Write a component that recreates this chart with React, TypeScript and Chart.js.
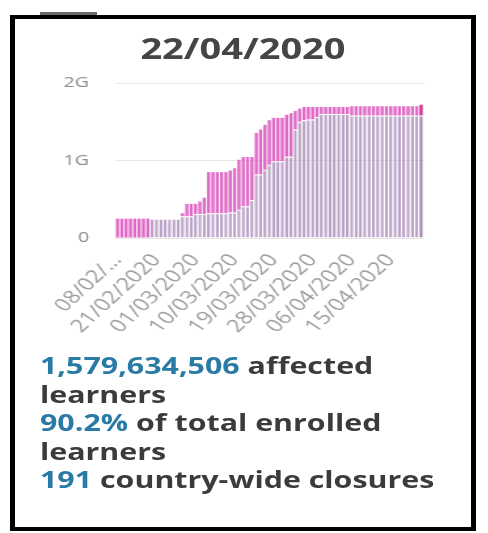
import React, { useEffect, useRef } from 'react';
import { Chart, registerables } from 'chart.js';

Chart.register(...registerables);

// Dates (categories)
const dates: string[] = [
  '08/02/2020',
  '13/02/2020', '14/02/2020', '15/02/2020', '16/02/2020', '17/02/2020', '18/02/2020', '19/02/2020', '20/02/2020',
  '21/02/2020', '22/02/2020', '23/02/2020', '24/02/2020', '25/02/2020', '26/02/2020', '27/02/2020', '28/02/2020', '29/02/2020',
  '01/03/2020', '02/03/2020', '03/03/2020', '04/03/2020', '05/03/2020', '06/03/2020', '07/03/2020', '08/03/2020', '09/03/2020',
  '10/03/2020', '11/03/2020', '12/03/2020', '13/03/2020', '14/03/2020', '15/03/2020', '16/03/2020', '17/03/2020', '18/03/2020',
  '19/03/2020', '20/03/2020', '21/03/2020', '22/03/2020', '23/03/2020', '24/03/2020', '25/03/2020', '26/03/2020', '27/03/2020',
  '28/03/2020', '29/03/2020', '30/03/2020', '31/03/2020', '01/04/2020', '02/04/2020', '03/04/2020', '04/04/2020', '05/04/2020',
  '06/04/2020', '07/04/2020', '08/04/2020', '09/04/2020', '10/04/2020', '11/04/2020', '12/04/2020', '13/04/2020', '14/04/2020',
  '15/04/2020', '16/04/2020', '17/04/2020', '18/04/2020', '19/04/2020', '20/04/2020', '21/04/2020', '22/04/2020',
];

// Affected learners, billions (country-wide closures)
const countryWide: number[] = [
  0, 0, 0, 0, 0, 0, 0, 0,
  0.25, 0.25, 0.25, 0.25, 0.25, 0.25, 0.25,
  0.28, 0.28, 0.28, 0.31, 0.31, 0.31,
  0.32, 0.32, 0.32, 0.32, 0.32, 0.33, 0.33,
  0.365, 0.41, 0.41, 0.49,
  0.82, 0.82, 0.88, 0.945, 0.99, 0.99, 0.99, 1.05, 1.05,
  1.40, 1.50, 1.52, 1.53, 1.53, 1.56,
  1.60, 1.60, 1.60, 1.60, 1.60, 1.60, 1.60,
  1.58, 1.58, 1.58, 1.58, 1.58, 1.58, 1.58, 1.58, 1.58,
  1.58, 1.58, 1.58, 1.58, 1.58, 1.58, 1.58, 1.58,
];

// Affected learners, billions (localized closures)
const localized: number[] = [
  0.25, 0.25, 0.25, 0.25, 0.25, 0.25, 0.25, 0.25,
  0, 0, 0, 0, 0, 0, 0,
  0.04, 0.16, 0.16, 0.13, 0.16, 0.21,
  0.53, 0.53, 0.53, 0.53, 0.53, 0.54, 0.57,
  0.645, 0.635, 0.635, 0.555,
  0.535, 0.58, 0.58, 0.575, 0.56, 0.56, 0.56, 0.54, 0.56,
  0.24, 0.17, 0.17, 0.16, 0.16, 0.13,
  0.09, 0.09, 0.09, 0.09, 0.09, 0.09, 0.09,
  0.12, 0.12, 0.12, 0.12, 0.12, 0.12, 0.12, 0.12, 0.12,
  0.12, 0.12, 0.12, 0.12, 0.12, 0.12, 0.12, 0.14,
];

const yTickLabels: string[] = ['0', '1G', '2G'];
const xLabelStep = 9;

const S = 1.31; // horizontal stretch of the reference picture
const FONT = "'Open Sans', 'Noto Sans', sans-serif";

export default function App() {
  const ref = useRef<HTMLCanvasElement>(null);

  useEffect(() => {
    const n = dates.length;
    const lilac = dates.map((_, i) => (i === n - 1 ? '#987aa4' : '#bba2c7'));
    const pink = dates.map((_, i) => (i === n - 1 ? '#d12c8a' : '#e068c6'));
    Chart.defaults.font.family = FONT;
    const chart = new Chart(ref.current as HTMLCanvasElement, {
      type: 'bar',
      data: {
        labels: dates,
        datasets: [
          {
            label: 'Country-wide',
            data: countryWide,
            backgroundColor: lilac,
            borderColor: '#ffffff',
            borderWidth: { top: 1, left: 0, right: 0, bottom: 0 },
            borderSkipped: 'bottom',
            barPercentage: 0.72,
            categoryPercentage: 1,
            stack: 's',
          },
          {
            label: 'Localized',
            data: localized,
            backgroundColor: pink,
            borderWidth: 0,
            barPercentage: 0.72,
            categoryPercentage: 1,
            stack: 's',
          },
        ],
      },
      options: {
        animation: false,
        responsive: false,
        plugins: { legend: { display: false }, tooltip: { enabled: false } },
        layout: { padding: { top: 0, right: 0, left: 0, bottom: 0 } },
        scales: {
          x: {
            stacked: true,
            grid: { display: false },
            border: { display: false },
            ticks: {
              autoSkip: false,
              minRotation: 50,
              maxRotation: 50,
              color: '#9c9c9c',
              font: { size: 18, family: FONT },
              padding: 4,
              callback: (_v: any, i: number) => {
                if (i % xLabelStep !== 0) return '';
                return i === 0 ? dates[0].slice(0, 6) + '...' : dates[i];
              },
            },
            afterFit: (s: any) => {
              s.height = 106;
            },
          },
          y: {
            stacked: true,
            min: 0,
            max: 2,
            ticks: {
              stepSize: 1,
              color: '#8a8a8a',
              font: { size: 15, family: FONT },
              padding: 20,
              callback: (v: any) => yTickLabels[Math.round(Number(v))] ?? '',
            },
            grid: { color: '#e6e6e6', drawTicks: false },
            border: { display: false },
            afterFit: (s: any) => {
              s.width = 57;
            },
          },
        },
      },
    });
    return () => chart.destroy();
  }, []);

  const blue = '#2a7aa6';
  const dark = '#3b3b3b';

  return (
    <div style={{ position: 'fixed', left: 0, top: 0, width: 488, height: 533, background: '#fff', overflow: 'hidden' }}>
      <div style={{ position: 'absolute', left: 40, top: 12, width: 57, height: 4, background: '#6a6a6a' }} />
      <div
        style={{
          position: 'absolute',
          left: 10,
          top: 15,
          width: 466,
          height: 516,
          boxSizing: 'border-box',
          borderStyle: 'solid',
          borderColor: '#000',
          borderWidth: '4px 5px 4px 5px',
        }}
      />
      <div
        style={{
          position: 'absolute',
          left: 0,
          top: 0,
          width: 488 / S,
          height: 533,
          transform: `scaleX(${S})`,
          transformOrigin: '0 0',
        }}
      >
        <div
          style={{
            position: 'absolute',
            left: 10 / S,
            top: 34,
            width: 466 / S,
            textAlign: 'center',
            fontFamily: FONT,
            fontWeight: 700,
            fontSize: 29,
            lineHeight: '28px',
            color: '#454545',
          }}
        >
          22/04/2020
        </div>
        <canvas
          ref={ref}
          width={311}
          height={290}
          style={{ position: 'absolute', left: 40 / S, top: 54, width: 311, height: 290 }}
        />
        <div
          style={{
            position: 'absolute',
            left: 40 / S,
            top: 351,
            width: 425 / S,
            fontFamily: FONT,
            fontWeight: 700,
            fontSize: 23.2,
            lineHeight: '28.6px',
            color: dark,
          }}
        >
          <div>
            <span style={{ color: blue }}>1,579,634,506</span> affected learners
          </div>
          <div>
            <span style={{ color: blue }}>90.2%</span> of total enrolled learners
          </div>
          <div>
            <span style={{ color: blue }}>191</span> country-wide closures
          </div>
        </div>
      </div>
    </div>
  );
}
